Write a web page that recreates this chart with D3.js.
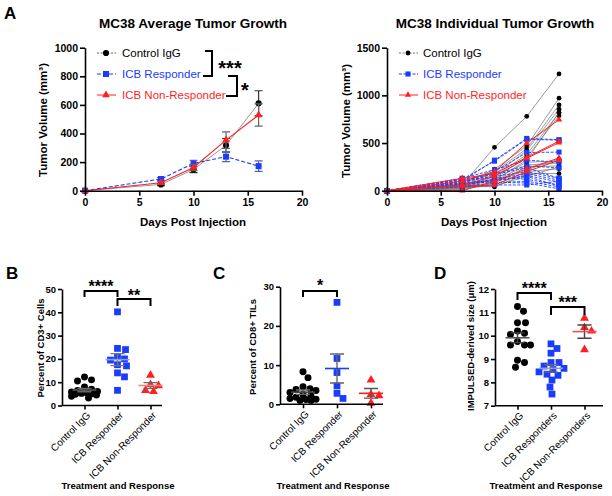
<!DOCTYPE html>
<html><head><meta charset="utf-8">
<script src="https://cdn.jsdelivr.net/npm/d3@7"></script>
<style>body{margin:0;background:#fff} text{font-family:"Liberation Sans",Arial,Helvetica,sans-serif}</style>
</head><body><svg id="c" width="612" height="496"></svg>
<script>
// ---------------- DATA ----------------
const days = [0, 7, 10, 13, 16];
const dayTicks = [0, 5, 10, 15, 20];
const avgTicks = [0, 200, 400, 600, 800, 1000];
const indTicks = [0, 500, 1000, 1500];
const seriesNames = ["Control IgG", "ICB Responder", "ICB Non-Responder"];

const meanControl = [0, 44, 149, 317, 611];
const semControl = [0, 8, 22, 48, 88];
const meanResponder = [0, 82, 191, 238, 172];
const semResponder = [0, 10, 22, 35, 37];
const meanNonResponder = [0, 56, 162, 354, 529];
const semNonResponder = [0, 10, 22, 58, 78];

const indivControl = [
  [0, 60, 455, 780, 1225], [0, 70, 225, 470, 970], [0, 50, 200, 440, 900],
  [0, 40, 170, 420, 855], [0, 30, 150, 380, 815], [0, 20, 130, 350, 785],
  [0, 60, 120, 300, 310], [0, 80, 100, 270, 290], [0, 10, 80, 250, 260],
  [0, 40, 60, 200, 230], [0, 50, 40, 180, 180], [0, 30, 50, 150, 250],
  [0, 20, 90, 220, 330], [0, 60, 110, 320, 820]
];
const indivResponder = [
  [0, 100, 320, 548, 535], [0, 120, 310, 540, 530], [0, 90, 200, 400, 405],
  [0, 130, 220, 320, 300], [0, 80, 180, 260, 240], [0, 110, 150, 200, 130],
  [0, 70, 120, 180, 110], [0, 60, 100, 160, 90], [0, 100, 140, 120, 60],
  [0, 50, 80, 100, 40], [0, 90, 90, 80, 20], [0, 40, 60, 60, 100],
  [0, 120, 170, 240, 130], [0, 70, 110, 150, 50]
];
const indivNonResponder = [
  [0, 100, 200, 500, 745], [0, 130, 180, 350, 520], [0, 60, 150, 340, 505],
  [0, 0, 100, 230, 343], [0, 50, 60, 200, 320]
];

const catsBC = ["Control IgG", "ICB Responder", "ICB Non-Responder"];
const catsD = ["Control IgG", "ICB Responders", "ICB Non-Responders"];

const cd3Control = [12.2, 11, 10.5, 8, 7, 6.5, 6, 5.8, 5.5, 5.2, 5, 4.8, 4.5, 4, 3.2];
const cd3Responder = [40.2, 24.5, 24, 21, 20, 19.5, 17.5, 17, 14, 12.3, 6.5];
const cd3NonResponder = [13, 9, 8.5, 6.5, 6];
const cd3Ticks = [0, 10, 20, 30, 40, 50];

const cd8Control = [8.3, 6.8, 4.5, 4, 3.8, 3.5, 3, 2.5, 2.2, 1.8, 1.5, 1.3, 1.2, 1, 1];
const cd8Responder = [26, 11.7, 8.1, 4.7, 2.8, 1.5];
const cd8NonResponder = [6.2, 2.5, 2.2, 0.3];
const cd8Ticks = [0, 10, 20, 30];

const sizeControl = [11.25, 11.05, 10.55, 10.55, 10.2, 10.1, 10.05, 9.75, 9.6, 9.6, 9.6, 8.95, 8.85, 8.65];
const sizeResponder = [9.65, 9.45, 9.25, 8.85, 8.85, 8.7, 8.6, 8.55, 8.45, 8.35, 8.3, 8.1, 7.8, 7.5];
const sizeNonResponder = [10.75, 10.35, 10.2, 9.4];
const sizeTicks = [7, 8, 9, 10, 11, 12];

// ---------------- STYLE ----------------
const svg = d3.select("#c");
const BLACK = "#000", BLUE = "#1a3cff", RED = "#ff1f1f", GRAYLINE = "#8a8a8a";
const FONT = '"Liberation Sans",Arial,Helvetica,sans-serif';
const fmt = d3.format("d");

function styleAxis(sel, fs) {
  sel.select(".domain").attr("stroke", BLACK).attr("stroke-width", 1.6);
  sel.selectAll(".tick line").attr("stroke", BLACK).attr("stroke-width", 1.6);
  sel.selectAll(".tick text").attr("fill", BLACK).attr("font-weight", "bold")
    .attr("font-size", fs).attr("font-family", FONT);
}
function txt(x, y, s, o = {}) {
  return svg.append("text").attr("x", x).attr("y", y).text(s)
    .attr("font-size", o.fs || 12).attr("font-weight", o.fw || "normal")
    .attr("fill", o.fill || BLACK).attr("text-anchor", o.anchor || "start");
}
function vtxt(x, y, s, fs) {
  return svg.append("text").attr("transform", `translate(${x},${y}) rotate(-90)`)
    .attr("text-anchor", "middle").attr("font-size", fs).attr("font-weight", "bold").text(s);
}
const symType = [d3.symbolCircle, d3.symbolSquare, d3.symbolTriangle];
const colors = [BLACK, BLUE, RED];

// ---------------- PANEL A (left) ----------------
(function () {
  const x = d3.scaleLinear().domain([0, 20]).range([85, 302]);
  const y = d3.scaleLinear().domain([0, 1000]).range([190.7, 47.7]);
  const g = svg.append("g");
  const means = [meanControl, meanResponder, meanNonResponder];
  const sems = [semControl, semResponder, semNonResponder];
  const lineStyles = [
    { c: GRAYLINE, w: 0.9, d: null },
    { c: BLUE, w: 1.1, d: "4,2" },
    { c: RED, w: 1.1, d: null }
  ];
  const line = d3.line().x((d, i) => x(days[i])).y(d => y(d));
  [0, 1, 2].forEach(k => {
    const gg = g.append("g");
    means[k].forEach((m, i) => {
      if (sems[k][i] <= 0) return;
      const cx = x(days[i]);
      gg.append("path")
        .attr("d", `M${cx},${y(m - sems[k][i])}V${y(m + sems[k][i])}M${cx - 4},${y(m - sems[k][i])}H${cx + 4}M${cx - 4},${y(m + sems[k][i])}H${cx + 4}`)
        .attr("stroke", k === 0 ? "#333" : (k === 1 ? "#5566aa" : "#666")).attr("stroke-width", 1.2).attr("fill", "none");
    });
    gg.append("path").attr("d", line(means[k])).attr("fill", "none")
      .attr("stroke", lineStyles[k].c).attr("stroke-width", lineStyles[k].w)
      .attr("stroke-dasharray", lineStyles[k].d);
    gg.selectAll("path.m").data(means[k]).join("path").attr("class", "m")
      .attr("transform", (d, i) => `translate(${x(days[i])},${y(d)})`)
      .attr("d", d3.symbol().type(symType[k]).size([30, 36, 26][k])).attr("fill", colors[k]);
  });
  const ax = g.append("g").attr("transform", `translate(0,${y(0)})`)
    .call(d3.axisBottom(x).tickValues(dayTicks).tickFormat(fmt).tickSize(5).tickSizeOuter(0).tickPadding(3));
  styleAxis(ax, 10.5);
  const ay = g.append("g").attr("transform", `translate(${x(0)},0)`)
    .call(d3.axisLeft(y).tickValues(avgTicks).tickFormat(fmt).tickSize(5).tickSizeOuter(0).tickPadding(2));
  styleAxis(ay, 10.5);

  const rows = [53, 74, 95];
  [0, 1, 2].forEach(k => {
    g.append("line").attr("x1", 97).attr("x2", 116).attr("y1", rows[k]).attr("y2", rows[k])
      .attr("stroke", k === 0 ? "#666" : lineStyles[k].c).attr("stroke-width", 1)
      .attr("stroke-dasharray", k === 0 ? "2,1.5" : lineStyles[k].d);
    g.append("path").attr("transform", `translate(106,${rows[k]})`)
      .attr("d", d3.symbol().type(symType[k]).size([30, 36, 26][k])).attr("fill", colors[k]);
    txt(122, rows[k] + 4, seriesNames[k], { fs: 11.5, fill: colors[k] });
  });
  g.append("path").attr("d", "M205,51H212V76H203").attr("stroke", BLACK).attr("stroke-width", 2).attr("fill", "none");
  g.append("path").attr("d", "M228,76H237V96H226").attr("stroke", BLACK).attr("stroke-width", 2).attr("fill", "none");
  txt(230, 75, "***", { fs: 20, fw: "bold", anchor: "middle" });
  txt(245, 97, "*", { fs: 20, fw: "bold", anchor: "middle" });

  txt(193, 28, "MC38 Average Tumor Growth", { fs: 13.5, fw: "bold", anchor: "middle" });
  txt(193, 226, "Days Post Injection", { fs: 11.5, fw: "bold", anchor: "middle" });
  vtxt(47, 120, "Tumor Volume (mm³)", 11.5);
  txt(4, 19, "A", { fs: 17, fw: "bold" });
})();

// ---------------- PANEL A (right) ----------------
(function () {
  const x = d3.scaleLinear().domain([0, 20]).range([387, 602]);
  const y = d3.scaleLinear().domain([0, 1500]).range([190.7, 47.7]);
  const g = svg.append("g");
  const groups = [indivControl, indivResponder, indivNonResponder];
  const st = [
    { c: "#707070", w: 0.7, d: null },
    { c: BLUE, w: 0.9, d: "3,1.5" },
    { c: RED, w: 1, d: null }
  ];
  const line = d3.line().x((d, i) => x(days[i])).y(d => y(d));
  [0, 1, 2].forEach(k => {
    groups[k].forEach(m => {
      g.append("path").attr("d", line(m)).attr("fill", "none")
        .attr("stroke", st[k].c).attr("stroke-width", st[k].w).attr("stroke-dasharray", st[k].d);
      g.selectAll(null).data(m).join("path")
        .attr("transform", (d, i) => `translate(${x(days[i])},${y(d)})`)
        .attr("d", d3.symbol().type(symType[k]).size([18, 26, 18][k])).attr("fill", colors[k]);
    });
  });
  const ax = g.append("g").attr("transform", `translate(0,${y(0)})`)
    .call(d3.axisBottom(x).tickValues(dayTicks).tickFormat(fmt).tickSize(5).tickSizeOuter(0).tickPadding(3));
  styleAxis(ax, 10.5);
  const ay = g.append("g").attr("transform", `translate(${x(0)},0)`)
    .call(d3.axisLeft(y).tickValues(indTicks).tickFormat(fmt).tickSize(5).tickSizeOuter(0).tickPadding(2));
  styleAxis(ay, 10.5);

  const rows = [53, 74, 95];
  [0, 1, 2].forEach(k => {
    g.append("line").attr("x1", 399).attr("x2", 418).attr("y1", rows[k]).attr("y2", rows[k])
      .attr("stroke", st[k].c).attr("stroke-width", 1)
      .attr("stroke-dasharray", k === 0 ? "2,1.5" : st[k].d);
    g.append("path").attr("transform", `translate(408,${rows[k]})`)
      .attr("d", d3.symbol().type(symType[k]).size([18, 26, 18][k])).attr("fill", colors[k]);
    txt(423, rows[k] + 4, seriesNames[k], { fs: 11.5, fill: colors[k] });
  });
  txt(495, 28, "MC38 Individual Tumor Growth", { fs: 13.5, fw: "bold", anchor: "middle" });
  txt(494, 226, "Days Post Injection", { fs: 11.5, fw: "bold", anchor: "middle" });
  vtxt(350, 121, "Tumor Volume (mm³)", 11.5);
})();

// ---------------- DOT PLOTS ----------------
function swarm(vals, yScale, d, maxW) {
  const pts = vals.map(v => ({ v, py: yScale(v) })).sort((a, b) => a.py - b.py);
  const placed = [];
  pts.forEach(p => {
    let best = 0, bestScore = -1, found = false;
    const cands = [0];
    for (let s = 1; s <= maxW; s++) cands.push(s, -s);
    for (const c of cands) {
      const score = placed.length ? d3.min(placed, q => Math.hypot(q.dx - c, q.py - p.py)) : Infinity;
      if (score >= d) { best = c; found = true; break; }
      if (score > bestScore) { bestScore = score; best = c; }
    }
    p.dx = best; placed.push(p);
  });
  return placed;
}

function dotPanel(cfg) {
  const g = svg.append("g");
  const y = d3.scaleLinear().domain(cfg.domain).range(cfg.yRange);
  const x = d3.scalePoint().domain(cfg.cats).range([cfg.cat1, cfg.cat1 + 2 * cfg.step]);
  const sizes = [38, 46, 34];
  cfg.data.forEach((vals, k) => {
    const cx = x(cfg.cats[k]);
    const m = d3.mean(vals), se = d3.deviation(vals) / Math.sqrt(vals.length);
    const pts = swarm(vals, y, 7.2, 13);
    g.selectAll(null).data(pts).join("path")
      .attr("transform", p => `translate(${cx + p.dx},${p.py})`)
      .attr("d", d3.symbol().type(symType[k]).size(sizes[k])).attr("fill", colors[k]);
    g.append("path").attr("d", `M${cx},${y(m - se)}V${y(m + se)}M${cx - 7},${y(m - se)}H${cx + 7}M${cx - 7},${y(m + se)}H${cx + 7}`)
      .attr("stroke", cfg.errColor[k]).attr("stroke-width", 1.4).attr("fill", "none");
    g.append("line").attr("x1", cx - 12).attr("x2", cx + 12).attr("y1", y(m)).attr("y2", y(m))
      .attr("stroke", cfg.meanColor[k]).attr("stroke-width", 1.6);
  });
  const ay = g.append("g").attr("transform", `translate(${cfg.axisX},0)`)
    .call(d3.axisLeft(y).tickValues(cfg.ticks).tickFormat(fmt).tickSize(4).tickSizeOuter(0).tickPadding(2));
  styleAxis(ay, 9.5);
  const ax = g.append("g").attr("transform", `translate(0,${cfg.yRange[0]})`)
    .call(d3.axisBottom(x).tickSize(4).tickSizeOuter(0).tickFormat(""));
  styleAxis(ax, 9.5);
  ax.select(".domain").attr("d", `M${cfg.axisX},0H${cfg.endX}`);
  cfg.cats.forEach(c => {
    g.append("text").attr("transform", `translate(${x(c) + 4},${cfg.yRange[0] + 8}) rotate(-45)`)
      .attr("text-anchor", "end").attr("dy", "0.35em").attr("font-size", 10).text(c);
  });
  cfg.brackets.forEach(b => {
    const x1 = x(cfg.cats[b.i]), x2 = x(cfg.cats[b.j]);
    g.append("path").attr("d", `M${x1},${b.y + b.drop}V${b.y}H${x2}V${b.y + b.drop}`)
      .attr("stroke", BLACK).attr("stroke-width", 2).attr("fill", "none");
    g.append("text").attr("x", (x1 + x2) / 2).attr("y", b.ty).attr("text-anchor", "middle")
      .attr("font-size", 16).attr("font-weight", "bold").text(b.t);
  });
  vtxt(cfg.ylabX, cfg.ylabY, cfg.ylabel, 9.5);
  txt(cfg.xlabX, 489, "Treatment and Response", { fs: 9.5, fw: "bold", anchor: "middle" });
  txt(cfg.letterX, 279, cfg.letter, { fs: 17, fw: "bold" });
}

dotPanel({
  letter: "B", letterX: 6, cats: catsBC, data: [cd3Control, cd3Responder, cd3NonResponder],
  domain: [0, 50], yRange: [405.5, 289], ticks: cd3Ticks, axisX: 62, endX: 162, cat1: 84.5, step: 33,
  meanColor: ["#555", "#8a9ee8", "#f58080"], errColor: ["#666", "#777", "#666"],
  ylabel: "Percent of CD3+ Cells", ylabX: 43.5, ylabY: 348, xlabX: 118,
  brackets: [{ i: 0, j: 1, y: 291, drop: 6, t: "****", ty: 292 }, { i: 1, j: 2, y: 299, drop: 7, t: "**", ty: 301 }]
});
dotPanel({
  letter: "C", letterX: 213, cats: catsBC, data: [cd8Control, cd8Responder, cd8NonResponder],
  domain: [0, 30], yRange: [404.3, 286.7], ticks: cd8Ticks, axisX: 280, endX: 383, cat1: 303, step: 34,
  meanColor: ["#444", BLUE, RED], errColor: ["#666", "#666", "#555"],
  ylabel: "Percent of CD8+ TILs", ylabX: 255.5, ylabY: 347, xlabX: 333,
  brackets: [{ i: 0, j: 1, y: 291, drop: 6, t: "*", ty: 291 }]
});
dotPanel({
  letter: "D", letterX: 434, cats: catsD, data: [sizeControl, sizeResponder, sizeNonResponder],
  domain: [7, 12], yRange: [405.7, 289], ticks: sizeTicks, axisX: 495, endX: 603, cat1: 517.5, step: 33.5,
  meanColor: ["#555", "#8a9ee8", "#f05050"], errColor: ["#444", "#666", "#444"],
  ylabel: "IMPULSED-derived size (μm)", ylabX: 473.5, ylabY: 346, xlabX: 546,
  brackets: [{ i: 0, j: 1, y: 293, drop: 7, t: "****", ty: 294 }, { i: 1, j: 2, y: 307, drop: 8, t: "***", ty: 308 }]
});
</script></body></html>
